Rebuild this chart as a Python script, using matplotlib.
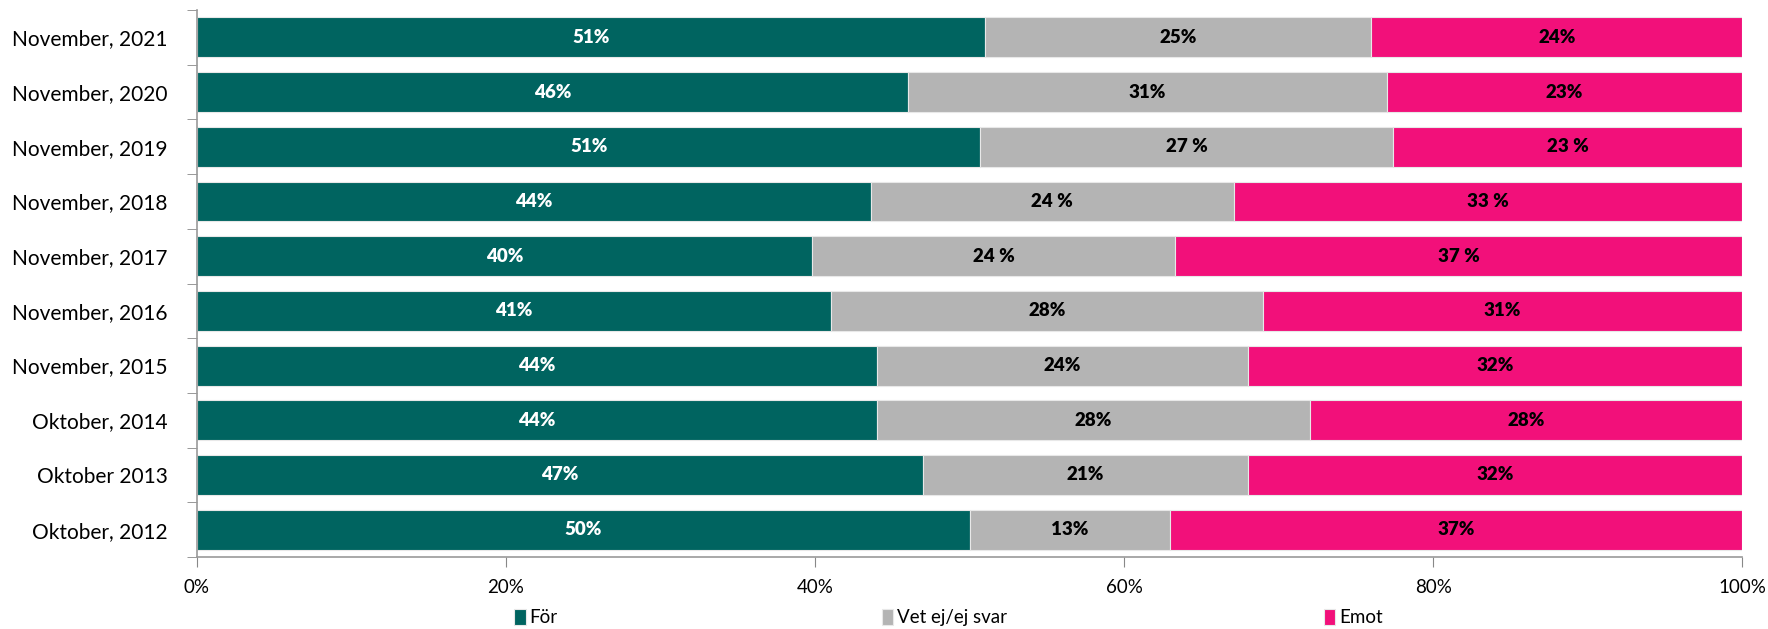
import matplotlib.pyplot as plt
import numpy as np

plt.rcParams['font.family'] = ['Lato', 'DejaVu Sans']

# Survey rounds, top to bottom
periods = ['November, 2021', 'November, 2020', 'November, 2019', 'November, 2018',
           'November, 2017', 'November, 2016', 'November, 2015', 'Oktober, 2014',
           'Oktober 2013', 'Oktober, 2012']

# Shares (%)
for_vals = [51, 46, 50.7, 43.6, 39.8, 41, 44, 44, 47, 50]
vet_vals = [25, 31, 26.7, 23.5, 23.5, 28, 24, 28, 21, 13]
emot_vals = [24, 23, 22.6, 32.9, 36.7, 31, 32, 28, 32, 37]

# Printed data labels
for_labels = ['51%', '46%', '51%', '44%', '40%', '41%', '44%', '44%', '47%', '50%']
vet_labels = ['25%', '31%', '27 %', '24 %', '24 %', '28%', '24%', '28%', '21%', '13%']
emot_labels = ['24%', '23%', '23 %', '33 %', '37 %', '31%', '32%', '28%', '32%', '37%']

series_names = ['För', 'Vet ej/ej svar', 'Emot']
colors = ['#006460', '#b4b4b4', '#f2107a']
text_colors = ['white', 'black', 'black']

fig = plt.figure(figsize=(17.68, 6.29), dpi=100)
ax = fig.add_axes([0.1114, 0.1145, 0.874, 0.8695])

y = np.arange(len(periods))
left = np.zeros(len(periods))
handles = []
for vals, labels, name, c, tc in zip([for_vals, vet_vals, emot_vals],
                                      [for_labels, vet_labels, emot_labels],
                                      series_names, colors, text_colors):
    vals = np.array(vals, dtype=float)
    b = ax.barh(y, vals, left=left, height=0.73, color=c, label=name,
                edgecolor='#e8e8e8', linewidth=0.8)
    handles.append(b)
    for yi, l, v, lab in zip(y, left, vals, labels):
        ax.text(l + v / 2, yi, lab, ha='center', va='center', color=tc,
                fontsize=13.5, fontweight='heavy')
    left = left + vals

ax.set_xlim(0, 100)
ax.set_ylim(len(periods) - 0.5, -0.5)
ax.set_xticks(np.arange(0, 101, 20))
ax.set_xticklabels(['%d%%' % v for v in range(0, 101, 20)])
ax.set_yticks(y)
ax.set_yticklabels(periods)
ax.set_yticks(np.arange(-0.5, len(periods)), minor=True)
ax.tick_params(axis='y', which='major', length=0, labelsize=15, pad=21)
ax.tick_params(axis='y', which='minor', length=7, color='#888888', direction='out')
ax.tick_params(axis='x', length=7, color='#888888', labelsize=13.5, pad=9)

for s in ['top', 'right']:
    ax.spines[s].set_visible(False)
for s in ['left', 'bottom']:
    ax.spines[s].set_color('#999999')
    ax.spines[s].set_linewidth(1.2)

# Excel spreads the legend entries unevenly, so place each one on its own
legend_x = [0.291, 0.499, 0.749]
for h, name, lx in zip(handles, series_names, legend_x):
    lg = fig.legend([h], [name], loc='center left', bbox_to_anchor=(lx, 0.018),
                    frameon=False, fontsize=13.5, handlelength=0.6, handleheight=0.9,
                    handletextpad=0.2, borderpad=0, borderaxespad=0)

fig.savefig('out.png', dpi=100)
